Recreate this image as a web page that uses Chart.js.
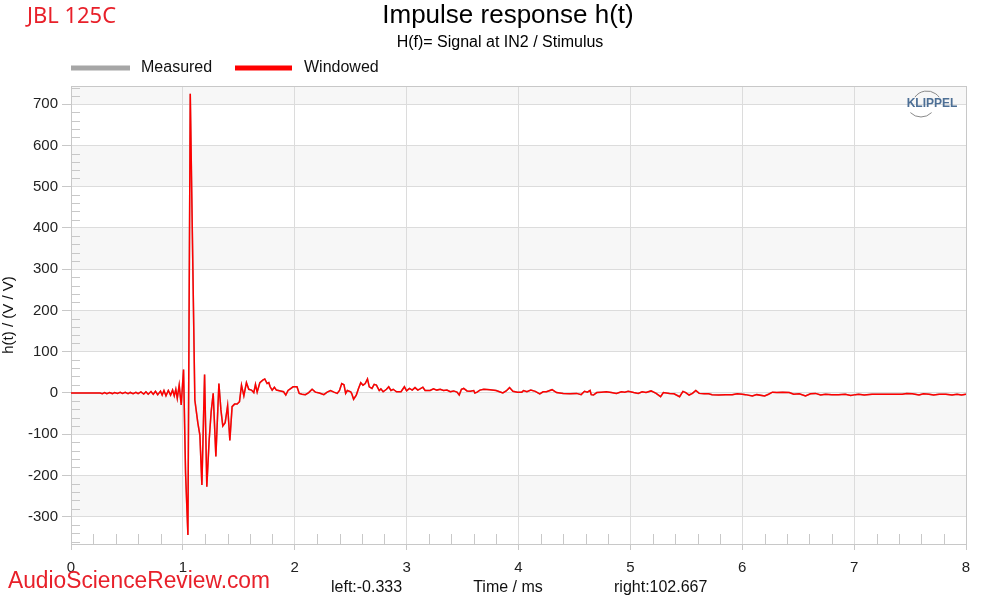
<!DOCTYPE html>
<html>
<head>
<meta charset="utf-8">
<script src="https://cdn.jsdelivr.net/npm/chart.js@4/dist/chart.umd.min.js"></script>
<style>
  html, body { margin: 0; padding: 0; background: #fff; }
  #wrap { width: 1000px; height: 600px; }
</style>
</head>
<body>
<div id="wrap"><canvas id="irChart" width="1000" height="600"></canvas></div>
<script>
// time axis (ms) and impulse response values
const timeMs = [
    0, 0.26, 0.28, 0.30, 0.32, 0.345, 0.37, 0.39, 0.415, 0.44, 0.46, 0.485, 0.51, 0.53, 0.555, 0.58, 0.60,
    0.625, 0.65, 0.67, 0.69, 0.715, 0.735, 0.755, 0.775, 0.80, 0.815, 0.831, 0.849, 0.87, 0.89, 0.908,
    0.923, 0.937, 0.95, 0.967, 0.985, 1.006, 1.024, 1.045, 1.066, 1.107, 1.134, 1.152, 1.17, 1.194,
    1.214, 1.235, 1.253, 1.271, 1.295, 1.322, 1.34, 1.357, 1.378, 1.40, 1.42, 1.44, 1.462, 1.485,
    1.506, 1.524, 1.545, 1.568, 1.589, 1.613, 1.634, 1.649, 1.664, 1.688, 1.714, 1.732, 1.753, 1.768,
    1.78, 1.798, 1.818, 1.836, 1.872, 1.90, 1.92, 1.94, 1.96, 1.985, 2.02, 2.04, 2.065, 2.095, 2.125,
    2.155, 2.184, 2.22, 2.26, 2.29, 2.32, 2.35, 2.38, 2.40, 2.42, 2.44, 2.455, 2.47, 2.50, 2.51, 2.526,
    2.55, 2.57, 2.59, 2.61, 2.63, 2.65, 2.666, 2.69, 2.71, 2.73, 2.755, 2.77, 2.79, 2.82, 2.84, 2.86,
    2.88, 2.91, 2.95, 2.98, 3.0, 3.025, 3.05, 3.075, 3.10, 3.12, 3.145, 3.165, 3.21, 3.24, 3.27, 3.30,
    3.33, 3.36, 3.39, 3.42, 3.45, 3.47, 3.49, 3.51, 3.54, 3.57, 3.60, 3.61, 3.63, 3.655, 3.69, 3.745,
    3.80, 3.83, 3.86, 3.89, 3.92, 3.95, 3.99, 4.03, 4.045, 4.075, 4.11, 4.15, 4.19, 4.22, 4.25, 4.30,
    4.34, 4.40, 4.46, 4.52, 4.56, 4.59, 4.615, 4.64, 4.65, 4.67, 4.70, 4.74, 4.785, 4.83, 4.875, 4.92,
    4.95, 4.98, 5.03, 5.07, 5.105, 5.14, 5.185, 5.23, 5.27, 5.295, 5.35, 5.39, 5.44, 5.47, 5.495, 5.525,
    5.555, 5.585, 5.615, 5.66, 5.70, 5.73, 5.79, 5.85, 5.91, 5.955, 6.0, 6.03, 6.09, 6.13, 6.20, 6.235,
    6.27, 6.31, 6.36, 6.42, 6.46, 6.51, 6.565, 6.61, 6.655, 6.70, 6.745, 6.80, 6.86, 6.92, 6.97, 7.01,
    7.04, 7.09, 7.16, 7.25, 7.34, 7.43, 7.47, 7.52, 7.58, 7.62, 7.67, 7.71, 7.76, 7.82, 7.875, 7.92,
    7.96, 8.0
];
const hWindowed = [
    0, 0, -1.5, 1.2, -1.5, 1.3, -1.4, 1.2, -1.3, 1.5, -1.2, 1.4, -1.5, 1.3, -1.6, 1.8, -1.5,
    2.5, -2.5, 3, -3, 3.5, -3, 4, -4, 4.5, -5, 6, -7, 6, -5, 7,
    -7, 9, -13, 19, -29, 57, -194, -344, 725, -17, -73, -102, -223, 45,
    -227, -114, -45, -1, -154, 23, -41, -80, -72, -31, -115, -33, -27, -27,
    -21, 19, -7, 25, 9, 7, 1, 21, 2, 25, 31, 34, 23, 25,
    15, 7, 14, 7, 5, 3, -5, 6, 10, 15, 15, -1, -3, -4, 1,
    9, 2, 0, -4, 2, 6, 2, -1, 6, 23, 20, -1, 6, 3, -2, -15,
    -5, 11, 25, 19, 23, 34, 15, 11, 21, 19, 6, 10, 3, 9, 15, 6,
    9, 3, 3, 15, 5, 11, 7, 13, 7, 10, 14, 6, 6, 10, 7, 9,
    6, 7, 3, 5, 2, -5, 9, 11, 5, 4, 6, 0, 2, 7, 9, 8,
    6, 3, 0, 5, 13, 4, 2, 2, 6, 3, 7, 4, -2, 3, 3, 8,
    1, -1, -2, -1, -4, 4, 2, 6, -4, -5, 1, 2, 3, 1, -1, 3,
    2, 4, 1, -1, 3, 1, 5, -1, -9, 1, -1, -2, -9, 4, 1, -5,
    -1, 6, -1, -2, -2, -4, -5, -4, -4, -2, -3, -4, -7, -4, -7, -3,
    2, 1, 2, 1, -3, -2, -7, -2, -1, -5, -3, -4, -4, -3, -6, -4,
    -3, -5, -3, -3, -3, -3, -1, -2, -5, -2, -3, -5, -3, -3, -5, -3,
    -5, -3
];
// the measured trace lies under the windowed one over this span
const hMeasured = hWindowed;

const yTickValues = [-300, -200, -100, 0, 100, 200, 300, 400, 500, 600, 700];
const xTickValues = [0, 1, 2, 3, 4, 5, 6, 7, 8];
const yMin = -366;
const yMax = 744;
const xMin = 0;
const xMax = 8;

const FONT = "'Liberation Sans', Arial, sans-serif";
const RED = '#ff0000';
const BRAND_RED = '#e8202a';

function toPoints(xs, ys) {
    return xs.map((x, i) => ({ x: x, y: ys[i] }));
}

const decorPlugin = {
    id: 'decor',
    beforeDraw(chart) {
        const ctx = chart.ctx;
        const area = chart.chartArea;
        const y = chart.scales.y;
        ctx.save();
        ctx.fillStyle = '#fff';
        ctx.fillRect(0, 0, chart.width, chart.height);
        // alternating horizontal bands
        ctx.fillStyle = '#f7f7f7';
        for (let v = -400; v < 800; v += 100) {
            if (Math.abs(Math.floor(v / 100)) % 2 === 1) {
                const top = Math.max(y.getPixelForValue(v + 100), area.top);
                const bot = Math.min(y.getPixelForValue(v), area.bottom);
                if (bot > top) ctx.fillRect(area.left, top, area.right - area.left, bot - top);
            }
        }
        ctx.restore();
    },
    beforeDatasetsDraw(chart) {
        const ctx = chart.ctx;
        const area = chart.chartArea;
        const x = chart.scales.x;
        const y = chart.scales.y;
        ctx.save();
        ctx.strokeStyle = '#c8c8c8';
        ctx.lineWidth = 1;
        ctx.beginPath();
        // minor y ticks every 20
        for (let v = -360; v <= 740; v += 20) {
            if (v % 100 === 0) continue;
            const py = Math.round(y.getPixelForValue(v)) + 0.5;
            ctx.moveTo(area.left, py);
            ctx.lineTo(area.left + 9, py);
        }
        // minor x ticks every 0.2 ms
        for (let i = 1; i < 40; i++) {
            if (i % 5 === 0) continue;
            const px = Math.round(x.getPixelForValue(i * 0.2)) + 0.5;
            ctx.moveTo(px, area.bottom);
            ctx.lineTo(px, area.bottom - 10);
        }
        ctx.stroke();
        // frame
        ctx.strokeRect(area.left + 0.5, area.top + 0.5, area.right - area.left, area.bottom - area.top);
        ctx.restore();
    },
    afterDraw(chart) {
        const ctx = chart.ctx;
        ctx.save();
        ctx.textBaseline = 'middle';
        // titles
        ctx.fillStyle = '#000';
        ctx.textAlign = 'center';
        ctx.font = '26px ' + FONT;
        ctx.fillText('Impulse response h(t)', 508, 16);
        ctx.font = '16px ' + FONT;
        ctx.fillText('H(f)= Signal at IN2 / Stimulus', 500, 43);
        // legend
        ctx.lineWidth = 5;
        ctx.strokeStyle = '#a6a6a6';
        ctx.beginPath(); ctx.moveTo(71, 68); ctx.lineTo(130, 68); ctx.stroke();
        ctx.strokeStyle = RED;
        ctx.beginPath(); ctx.moveTo(235, 68); ctx.lineTo(292, 68); ctx.stroke();
        ctx.textAlign = 'left';
        ctx.font = '16px ' + FONT;
        ctx.fillStyle = '#111';
        ctx.fillText('Measured', 141, 68);
        ctx.fillText('Windowed', 304, 68);
        // bottom labels
        ctx.fillText('left:-0.333', 331, 588);
        ctx.fillText('right:102.667', 614, 588);
        ctx.textAlign = 'center';
        ctx.fillText('Time / ms', 508, 588);
        // brand texts
        ctx.textAlign = 'left';
        ctx.fillStyle = BRAND_RED;
        ctx.font = "22px 'Noto Sans', sans-serif";
        ctx.fillText('JBL 125C', 27, 17, 89);
        ctx.font = '23px ' + FONT;
        ctx.fillText('AudioScienceReview.com', 8, 582, 262);
        // klippel logo
        ctx.fillStyle = '#4d6f95';
        ctx.font = 'bold 12px ' + FONT;
        ctx.textAlign = 'center';
        ctx.fillText('KLIPPEL', 932, 104);
        ctx.strokeStyle = '#8a8a8a';
        ctx.lineWidth = 1;
        ctx.beginPath(); ctx.arc(927, 106, 15, Math.PI * 1.2, Math.PI * 1.8); ctx.stroke();
        ctx.beginPath(); ctx.arc(921, 102, 15, Math.PI * 0.25, Math.PI * 0.75); ctx.stroke();
        ctx.restore();
    }
};

function createImpulseChart() {
    const ctx = document.getElementById('irChart').getContext('2d');
    new Chart(ctx, {
        type: 'line',
        data: {
            datasets: [
                {
                    label: 'Windowed',
                    data: toPoints(timeMs, hWindowed),
                    borderColor: RED,
                    borderWidth: 1.5,
                    pointRadius: 0,
                    tension: 0,
                    order: 1
                },
                {
                    label: 'Measured',
                    data: toPoints(timeMs, hMeasured),
                    borderColor: '#a6a6a6',
                    borderWidth: 1.5,
                    pointRadius: 0,
                    tension: 0,
                    order: 2
                }
            ]
        },
        options: {
            responsive: false,
            animation: false,
            layout: { padding: { left: 0, top: 86, right: 34, bottom: 0 } },
            plugins: {
                legend: { display: false },
                title: { display: false },
                tooltip: { enabled: false }
            },
            scales: {
                x: {
                    type: 'linear',
                    min: xMin,
                    max: xMax,
                    afterFit: (scale) => { scale.height = 56; },
                    afterBuildTicks: (scale) => { scale.ticks = xTickValues.map(v => ({ value: v })); },
                    grid: { color: '#dcdcdc', tickLength: 6, tickColor: '#c8c8c8' },
                    border: { color: '#c8c8c8' },
                    ticks: {
                        padding: 9,
                        color: '#222',
                        font: { size: 15, family: FONT }
                    }
                },
                y: {
                    type: 'linear',
                    min: yMin,
                    max: yMax,
                    afterFit: (scale) => { scale.width = 71; },
                    afterBuildTicks: (scale) => { scale.ticks = yTickValues.map(v => ({ value: v })); },
                    grid: { color: '#dcdcdc', tickLength: 9, tickColor: '#c8c8c8' },
                    border: { color: '#c8c8c8' },
                    ticks: {
                        padding: 4,
                        color: '#222',
                        font: { size: 15, family: FONT }
                    },
                    title: {
                        display: true,
                        text: 'h(t) / (V / V)',
                        color: '#111',
                        padding: 0,
                        font: { size: 15, family: FONT }
                    }
                }
            }
        },
        plugins: [decorPlugin]
    });
}

createImpulseChart();
</script>
</body>
</html>
